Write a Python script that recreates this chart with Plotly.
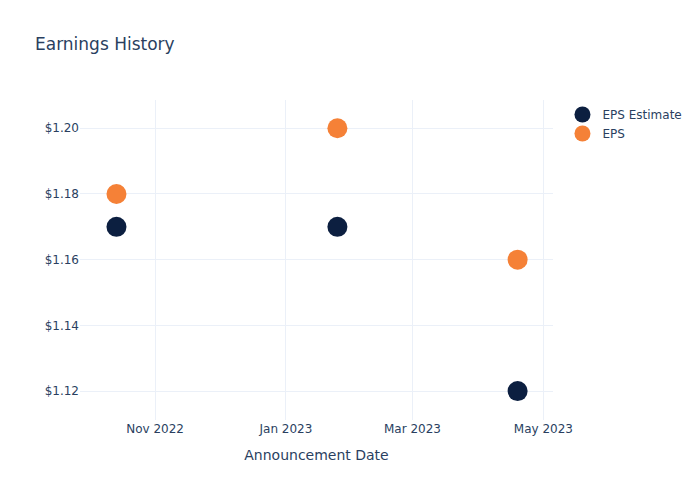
import plotly.graph_objects as go

dates = ["2022-10-14", "2023-01-25", "2023-04-19"]
eps_estimate = [1.17, 1.17, 1.12]
eps_actual = [1.18, 1.20, 1.16]

fig = go.Figure()
fig.add_trace(go.Scatter(x=dates, y=eps_estimate, mode="markers", name="EPS Estimate",
                         marker=dict(color="#0c1f40", size=20)))
fig.add_trace(go.Scatter(x=dates, y=eps_actual, mode="markers", name="EPS",
                         marker=dict(color="#f58137", size=20)))

fig.update_layout(
    template="plotly_white",
    width=700, height=500,
    font=dict(family="DejaVu Sans, Verdana, sans-serif"),
    margin=dict(l=80, r=147, t=100, b=80),
    title=dict(text="Earnings History"),
    xaxis=dict(title=dict(text="Announcement Date"), range=["2022-09-27", "2023-05-05 12:00"],
               dtick="M2", tickformat="%b %Y"),
    yaxis=dict(tickprefix="$", tickformat=".2f", range=[1.1112, 1.2086], dtick=0.02),
)
fig.write_html("out.html")
